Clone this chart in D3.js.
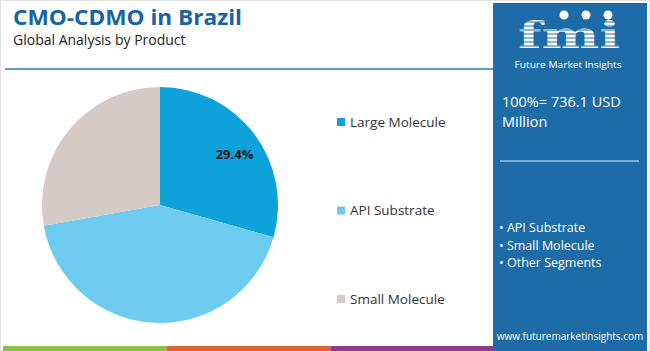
<!DOCTYPE html>
<html>
<head>
<meta charset="utf-8">
<script src="https://cdn.jsdelivr.net/npm/d3@7"></script>
<style>
  body { margin: 0; background: #fff; }
  svg { display: block; font-family: "Open Sans", sans-serif; }
</style>
</head>
<body>
<svg id="chart" width="650" height="351"></svg>
<script>
const categories = ['Large Molecule', 'API Substrate', 'Small Molecule'];
const shares = [29.4, 42.8, 27.8];
const colors = ['#0ea1da', '#6dcbf0', '#d5cbc6'];
const shownLabels = ['29.4%', '', ''];
const panelBullets = ['API Substrate', 'Small Molecule', 'Other Segments'];
const footerColors = ['#8bc042', '#e2612e', '#8e3b8f'];

const svg = d3.select('#chart');
const W = 650, H = 351;

// frame
svg.append('rect')
	.attr('x', 0.5).attr('y', 0.5)
	.attr('width', W - 1).attr('height', H - 1)
	.style('fill', '#fff')
	.style('stroke', '#e2e2e2');

// title
svg.append('text')
	.attr('x', 13).attr('y', 25)
	.attr('textLength', 229)
	.attr('lengthAdjust', 'spacingAndGlyphs')
	.style('font-size', '22px')
	.style('font-weight', '700')
	.style('fill', '#1665a1')
	.text('CMO-CDMO in Brazil');
svg.append('text')
	.attr('x', 13).attr('y', 45)
	.style('font-size', '14px')
	.style('fill', '#222')
	.text('Global Analysis by Product');

svg.append('line')
	.attr('x1', 5).attr('x2', 494)
	.attr('y1', 69).attr('y2', 69)
	.style('stroke', '#2b78b5')
	.style('stroke-width', 1.5);

// pie
const cx = 160, cy = 205, r = 118;
const data = categories.map(function(c, i) { return { name: c, value: shares[i], color: colors[i], label: shownLabels[i] }; });
const pie = d3.pie().sort(null).value(function(d) { return d.value; });
const arc = d3.arc().innerRadius(0).outerRadius(r);
const labelArc = d3.arc().innerRadius(r * 0.76).outerRadius(r * 0.76);

const pieGroup = svg.append('g')
	.attr('transform', 'translate(' + cx + ',' + cy + ')');
pieGroup.selectAll('path')
	.data(pie(data))
	.enter().append('path')
	.attr('d', arc)
	.style('fill', function(d) { return d.data.color; });
pieGroup.selectAll('text')
	.data(pie(data))
	.enter().append('text')
	.attr('transform', function(d) { return 'translate(' + labelArc.centroid(d) + ')'; })
	.attr('dx', 3)
	.attr('dy', '0.6em')
	.style('text-anchor', 'middle')
	.style('font-size', '13px')
	.style('font-weight', '700')
	.style('fill', '#1a1a1a')
	.text(function(d) { return d.data.label; });

// legend
const legendY = d3.scalePoint().domain(categories).range([122, 299]);
const legend = svg.selectAll('.legend')
	.data(data)
	.enter().append('g')
	.attr('class', 'legend')
	.attr('transform', function(d) { return 'translate(337,' + legendY(d.name) + ')'; });
legend.append('rect')
	.attr('x', 0).attr('y', -4)
	.attr('width', 8).attr('height', 8)
	.style('fill', function(d) { return d.color; });
legend.append('text')
	.attr('x', 13).attr('y', 0)
	.attr('dy', '0.35em')
	.style('font-size', '13.5px')
	.style('fill', '#333')
	.text(function(d) { return d.name; });

// footer strips
const footerX = d3.scaleLinear().domain([0, 3]).range([3, 494]);
svg.selectAll('.footer')
	.data(footerColors)
	.enter().append('rect')
	.attr('class', 'footer')
	.attr('x', function(d, i) { return footerX(i); })
	.attr('y', 346)
	.attr('width', function(d, i) { return footerX(i + 1) - footerX(i); })
	.attr('height', 5)
	.style('fill', function(d) { return d; });

// right panel
const panel = svg.append('g');
panel.append('rect')
	.attr('x', 493).attr('y', 3)
	.attr('width', 154).attr('height', 348)
	.style('fill', '#1d6ba7');

// logo
const logo = panel.append('g');
logo.append('text')
	.attr('x', 518).attr('y', 48)
	.attr('textLength', 102)
	.attr('lengthAdjust', 'spacingAndGlyphs')
	.style('font-family', '"DejaVu Serif", serif')
	.style('font-size', '37px')
	.style('font-weight', '700')
	.style('fill', '#fff')
	.text('fmi');
d3.range(22, 50, 4).forEach(function(y) {
	logo.append('line')
		.attr('x1', 515).attr('x2', 625)
		.attr('y1', y).attr('y2', y)
		.style('stroke', '#1d6ba7')
		.style('stroke-width', 1);
});
[[564, 15], [586, 15], [608, 15]].forEach(function(p) {
	logo.append('circle')
		.attr('cx', p[0]).attr('cy', p[1]).attr('r', 4.5)
		.style('fill', '#fff');
});
logo.append('text')
	.attr('x', 568).attr('y', 68)
	.attr('textLength', 107)
	.attr('lengthAdjust', 'spacingAndGlyphs')
	.style('text-anchor', 'middle')
	.style('font-size', '9.5px')
	.style('fill', '#fff')
	.text('Future Market Insights');

panel.append('text')
	.attr('x', 502).attr('y', 107)
	.style('font-size', '14.5px')
	.style('fill', '#fff')
	.text('100%= 736.1 USD');
panel.append('text')
	.attr('x', 502).attr('y', 127)
	.style('font-size', '14.5px')
	.style('fill', '#fff')
	.text('Million');
panel.append('line')
	.attr('x1', 500).attr('x2', 639)
	.attr('y1', 161).attr('y2', 161)
	.style('stroke', '#9cc3e3')
	.style('stroke-width', 1.5);

panel.selectAll('.bullet')
	.data(panelBullets)
	.enter().append('text')
	.attr('class', 'bullet')
	.attr('x', 499)
	.attr('y', function(d, i) { return 232 + i * 17.5; })
	.style('font-size', '12.5px')
	.style('fill', '#fff')
	.text(function(d) { return '\u2022 ' + d; });

panel.append('text')
	.attr('x', 570).attr('y', 340)
	.style('text-anchor', 'middle')
	.style('font-size', '10px')
	.style('fill', '#fff')
	.text('www.futuremarketinsights.com');
</script>
</body>
</html>
